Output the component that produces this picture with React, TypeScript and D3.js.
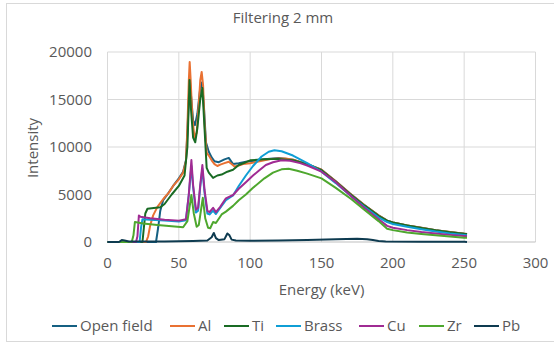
import React from "react";
import * as d3 from "d3";

type Pt = [number, number];

const xTicks = [0, 50, 100, 150, 200, 250, 300];
const yTicks = [0, 5000, 10000, 15000, 20000];

const openField: Pt[] = [
  [0, 0], [20, 0], [34, 0], [35.5, 1500], [37, 3300], [39, 4400], [42, 5000], [46, 5900], [50, 6700], [53, 7400],
  [55, 8600], [56, 11500], [57.6, 17400], [58.5, 15500], [60, 12800], [61.3, 12300], [63, 13500], [65, 16200],
  [66.3, 16800], [67.5, 14500], [69, 10500], [71, 9500], [73, 8900], [75, 8500], [78, 8400], [82, 8700],
  [85, 8850], [88, 8200], [92, 8300], [97, 8450], [100, 8500], [110, 8700], [120, 8850], [130, 8650],
  [140, 8200], [150, 7600], [160, 6400], [170, 5100], [180, 3900], [190, 2800], [196, 2250], [200, 2050],
  [210, 1750], [220, 1500], [230, 1250], [240, 1050], [250, 880], [252, 850],
];

const al: Pt[] = [
  [0, 0], [20, 0], [27, 0], [28.5, 600], [30, 1800], [32, 2800], [35, 3700], [38, 4300], [40, 4700],
  [43, 5200], [46, 5900], [50, 6600], [53, 7300], [55, 8500], [56, 12000], [57, 17000], [57.6, 18950],
  [58.3, 17000], [59.5, 13000], [61, 11000], [62.5, 11500], [64, 14500], [65, 17000], [66, 17900],
  [67, 16500], [68, 12500], [69.5, 9400], [71, 9100], [73, 8600], [75, 8200], [77, 8000], [79, 8150],
  [82, 8300], [85, 8450], [87, 8200], [89, 7950], [92, 8050], [95, 8200], [100, 8300], [105, 8450],
  [110, 8600], [115, 8750], [120, 8800], [125, 8800], [130, 8650], [140, 8200], [150, 7600], [160, 6400],
  [170, 5100], [180, 3900], [190, 2800], [196, 2250], [200, 2050], [210, 1750], [220, 1500], [230, 1250],
  [240, 1050], [250, 880], [252, 850],
];

const ti: Pt[] = [
  [0, 0], [20, 0], [24.5, 0], [25.5, 1500], [26.5, 3000], [28, 3500], [31, 3550], [34, 3600], [37, 3650],
  [40, 4000], [45, 5000], [50, 5900], [54, 7000], [56, 10000], [57.5, 17050], [58.5, 14000], [60, 11000],
  [61.5, 10500], [63, 12000], [65, 15000], [66.5, 16200], [68, 12000], [69.5, 7800], [71, 7300], [74, 6750],
  [77, 7000], [80, 7100], [84, 7400], [88, 7600], [92, 8100], [97, 8400], [100, 8600], [110, 8700],
  [120, 8750], [130, 8600], [140, 8200], [150, 7550], [160, 6350], [170, 5050], [180, 3850], [190, 2750],
  [196, 2250], [200, 2050], [210, 1750], [220, 1480], [230, 1230], [240, 1030], [250, 860], [252, 840],
];

const brass: Pt[] = [
  [0, 0], [20, 0], [22.5, 0], [23.5, 1500], [24.5, 2400], [30, 2350], [40, 2250], [50, 2150], [55, 2300],
  [57, 5000], [58.8, 8000], [60, 5800], [62, 3100], [63.5, 3300], [65, 5800], [66.5, 7700], [68, 5200],
  [70, 3000], [71.5, 2900], [74, 3300], [76, 2950], [80, 3800], [83, 4400], [88, 4900], [92, 5900],
  [97, 7000], [102, 8000], [108, 9000], [113, 9500], [117, 9650], [122, 9550], [130, 9100], [140, 8300],
  [150, 7400], [160, 6200], [171, 4800], [180, 3700], [190, 2600], [196, 2100], [200, 1900], [210, 1600],
  [220, 1350], [230, 1100], [240, 900], [250, 750], [252, 720],
];

const cu: Pt[] = [
  [0, 0], [20, 0], [21, 600], [22, 2800], [23, 2650], [30, 2500], [40, 2350], [50, 2250], [55, 2400],
  [57, 5000], [58.8, 8630], [60, 6000], [62, 3400], [63.5, 3600], [65, 6000], [66.5, 8100], [68, 5500],
  [70, 3300], [71.5, 3150], [74, 3600], [76, 3150], [79, 3700], [83, 4600], [88, 4950], [92, 5600],
  [97, 6300], [102, 7000], [106, 7500], [111, 8100], [116, 8400], [122, 8600], [128, 8550], [135, 8300],
  [140, 8050], [150, 7400], [160, 6300], [171, 4800], [180, 3600], [190, 2400], [196, 1700], [200, 1500],
  [210, 1250], [220, 1050], [230, 900], [240, 750], [250, 620], [252, 600],
];

const zr: Pt[] = [
  [0, 0], [17, 0], [18.2, 700], [19.2, 2100], [25, 1950], [35, 1800], [45, 1650], [53, 1550], [56, 2200],
  [58.8, 4950], [60.5, 3000], [62.5, 1600], [64, 1800], [66.8, 4650], [68.5, 2500], [70.5, 1500], [72, 1450],
  [74, 2100], [76, 2000], [80, 2900], [83, 3200], [88, 3800], [92, 4400], [97, 5000], [102, 5700],
  [110, 6700], [116, 7300], [122, 7650], [127, 7700], [133, 7500], [140, 7200], [150, 6700], [160, 5700],
  [171, 4500], [180, 3400], [190, 2200], [196, 1400], [200, 1250], [210, 1000], [220, 850], [230, 700],
  [240, 580], [250, 460], [252, 450],
];

const pb: Pt[] = [
  [0, 0], [8, 0], [10, 200], [12, 150], [15, 50], [20, 50], [30, 50], [40, 60], [50, 80], [60, 100],
  [70, 150], [73, 500], [74.5, 950], [76, 400], [78, 200], [82, 300], [84, 900], [85.5, 700], [87, 250],
  [90, 150], [100, 120], [120, 150], [140, 200], [160, 280], [175, 330], [182, 300], [186, 200], [190, 100],
  [195, 50], [220, 30], [250, 20], [252, 0],
];

const seriesNames = ["Open field", "Al", "Ti", "Brass", "Cu", "Zr", "Pb"];
const seriesData = [openField, al, ti, brass, cu, zr, pb];
const seriesColors = ["#156082", "#E97132", "#196B24", "#0F9ED5", "#A02B93", "#4EA72E", "#0E3B50"];

const W = 554;
const H = 344;
const FONT = "'Open Sans', sans-serif";
const TEXT = "#595959";

export default function App() {
  const x = d3.scaleLinear().domain([0, 300]).range([107.5, 535.5]);
  const y = d3.scaleLinear().domain([0, 20000]).range([242, 52]);
  const line = d3
    .line<Pt>()
    .x((d) => x(d[0]))
    .y((d) => y(d[1]));

  const legendX = [52, 170, 224, 276, 359, 419, 474];

  return (
    <svg
      width={W}
      height={H}
      style={{ position: "absolute", left: 0, top: 0, background: "#fff" }}
      fontFamily={FONT}
    >
      <rect x={6.5} y={3.5} width={560} height={338} fill="#fff" stroke="#d9d9d9" />
      <text x={283} y={23} textAnchor="middle" fontSize={15} fill={TEXT}>
        Filtering 2 mm
      </text>
      {xTicks.map((t) => (
        <line key={"gx" + t} x1={x(t)} x2={x(t)} y1={y(20000)} y2={y(0)} stroke="#d9d9d9" />
      ))}
      {yTicks.map((t) => (
        <line key={"gy" + t} x1={x(0)} x2={x(300)} y1={y(t)} y2={y(t)} stroke={t === 0 ? "#bfbfbf" : "#d9d9d9"} />
      ))}
      {xTicks.map((t) => (
        <text key={"tx" + t} x={x(t)} y={268} textAnchor="middle" fontSize={15} fill={TEXT}>
          {t}
        </text>
      ))}
      {yTicks.map((t) => (
        <text key={"ty" + t} x={92} y={y(t) + 5} textAnchor="end" fontSize={15} fill={TEXT}>
          {t}
        </text>
      ))}
      <text x={321.5} y={295} textAnchor="middle" fontSize={15} fill={TEXT}>
        Energy (keV)
      </text>
      <text
        transform={`translate(38,148) rotate(-90)`}
        textAnchor="middle"
        fontSize={15}
        fill={TEXT}
      >
        Intensity
      </text>
      {seriesData.map((d, i) => (
        <path
          key={seriesNames[i]}
          d={line(d) || ""}
          fill="none"
          stroke={seriesColors[i]}
          strokeWidth={2}
          strokeLinejoin="round"
        />
      ))}
      {seriesNames.map((n, i) => (
        <g key={"lg" + n} transform={`translate(${legendX[i]},326)`}>
          <line x1={0} x2={25} y1={0} y2={0} stroke={seriesColors[i]} strokeWidth={2} />
          <text x={28} y={5} fontSize={15} fill={TEXT}>
            {n}
          </text>
        </g>
      ))}
    </svg>
  );
}
